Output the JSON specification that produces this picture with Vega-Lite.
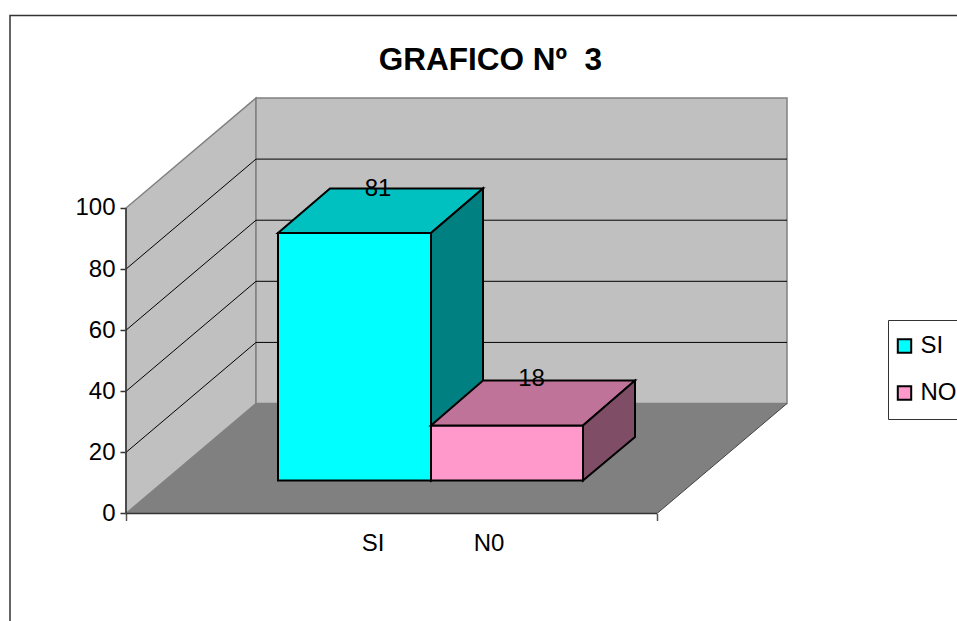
{
"$schema":"https://vega.github.io/schema/vega-lite/v6.json",
"width":957,"height":621,"padding":0,"autosize":{"type":"none"},
"background":"white",
"config":{"view":{"stroke":null},"font":"Liberation Sans"},
"title":{"text":"GRAFICO Nº\u00a0\u00a03","anchor":"middle","orient":"top","frame":"group","offset":-76,"dx":12,"font":"Liberation Sans","fontSize":31.5,"fontWeight":"bold","color":"black"},
"datasets":{
"walls":[
{"face":"Pared lateral","x":126,"y":0,"y2":100},
{"face":"Pared lateral","x":256,"y":36,"y2":136},
{"face":"Pared fondo","x":256,"y":36,"y2":136},
{"face":"Pared fondo","x":787,"y":36,"y2":136}],
"floor":[
{"face":"Piso","x":126,"y":0,"y2":0},
{"face":"Piso","x":256,"y":0,"y2":36},
{"face":"Piso","x":657,"y":0,"y2":36},
{"face":"Piso","x":787,"y":36,"y2":36}],
"grid":[
{"v":20,"x":126,"y":20},{"v":20,"x":256,"y":56},{"v":20,"x":787,"y":56},
{"v":40,"x":126,"y":40},{"v":40,"x":256,"y":76},{"v":40,"x":787,"y":76},
{"v":60,"x":126,"y":60},{"v":60,"x":256,"y":96},{"v":60,"x":787,"y":96},
{"v":80,"x":126,"y":80},{"v":80,"x":256,"y":116},{"v":80,"x":787,"y":116}],
"frame":[
{"edge":"marco","x":10,"y":-36},{"edge":"marco","x":10,"y":163},{"edge":"marco","x":957,"y":163},
{"edge":"eje y","x":126,"y":0},{"edge":"eje y","x":126,"y":100},
{"edge":"eje x","x":126,"y":0},{"edge":"eje x","x":657,"y":0}],
"diag":[{"edge":"piso","x":657,"y":0},{"edge":"piso","x":787,"y":36}],
"bars":[
{"series":"SI","value":81,"x":278,"y":10.8,"y2":91.8},
{"series":"SI","value":81,"x":431,"y":10.8,"y2":91.8},
{"series":"SI tapa","value":81,"x":278,"y":91.8,"y2":91.8},
{"series":"SI tapa","value":81,"x":330,"y":91.8,"y2":106.4},
{"series":"SI tapa","value":81,"x":431,"y":91.8,"y2":106.4},
{"series":"SI tapa","value":81,"x":483,"y":106.4,"y2":106.4},
{"series":"SI lado","value":81,"x":431,"y":10.8,"y2":91.8},
{"series":"SI lado","value":81,"x":483,"y":25,"y2":106.4},
{"series":"NO","value":18,"x":431,"y":10.8,"y2":28.8},
{"series":"NO","value":18,"x":583,"y":10.8,"y2":28.8},
{"series":"NO tapa","value":18,"x":431,"y":28.8,"y2":28.8},
{"series":"NO tapa","value":18,"x":483,"y":28.8,"y2":43.5},
{"series":"NO tapa","value":18,"x":583,"y":28.8,"y2":43.5},
{"series":"NO tapa","value":18,"x":635,"y":43.5,"y2":43.5},
{"series":"NO lado","value":18,"x":583,"y":10.8,"y2":28.8},
{"series":"NO lado","value":18,"x":635,"y":25,"y2":43.5}],
"valueLabels":[{"value":81,"x":378,"y":106.2},{"value":18,"x":531.5,"y":44}],
"categories":[{"label":"SI","x":373,"y":-10},{"label":"N0","x":489,"y":-10}]
},
"encoding":{
"x":{"field":"x","type":"quantitative","scale":{"domain":[0,957],"nice":false,"zero":false},
"axis":{"values":[126,657],"labels":false,"domain":false,"grid":false,"title":null,"offset":-107.5,"tickSize":7,"tickColor":"#555555","tickWidth":1.5}},
"y":{"field":"y","type":"quantitative","stack":null,"scale":{"domain":[-35.19,168.08],"nice":false,"zero":false},
"axis":{"values":[0,20,40,60,80,100],"domain":false,"grid":false,"title":null,"offset":-126,"tickSize":6,"tickColor":"#333333","tickWidth":1.5,"labelFont":"Liberation Sans","labelFontSize":24,"labelColor":"black","labelPadding":5,"labelOverlap":false}}
},
"layer":[
{"data":{"name":"walls"},"mark":{"type":"area","fill":"#c0c0c0","stroke":"#808080","strokeWidth":1.5},
"encoding":{"y2":{"field":"y2"},"detail":{"field":"face"}}},
{"data":{"name":"grid"},"mark":{"type":"line","stroke":"black","strokeWidth":1},"encoding":{"detail":{"field":"v"}}},
{"data":{"name":"floor"},"mark":{"type":"area","fill":"#808080"},
"encoding":{"y2":{"field":"y2"},"detail":{"field":"face"}}},
{"data":{"name":"frame"},"mark":{"type":"line","stroke":"#333333","strokeWidth":1.5},"encoding":{"detail":{"field":"edge"}}},
{"data":{"name":"diag"},"mark":{"type":"line","stroke":"#444444","strokeWidth":1},"encoding":{"detail":{"field":"edge"}}},
{"data":{"name":"bars"},"mark":{"type":"area","stroke":"black","strokeWidth":2,"strokeJoin":"miter"},
"encoding":{"y2":{"field":"y2"},"color":{"field":"series","type":"nominal",
"scale":{"domain":["SI","NO","SI tapa","SI lado","NO tapa","NO lado"],
"range":["#00ffff","#ff99cc","#00c0c0","#008080","#bf7399","#804d66"]},
"legend":{"values":["SI","NO"],"title":null,"orient":"none","legendX":888,"legendY":320,"padding":14,"strokeColor":"#333333","fillColor":"white","symbolType":"square","symbolSize":180,"symbolOffset":-9.5,"symbolStrokeColor":"black","symbolStrokeWidth":2,"labelFont":"Liberation Sans","labelFontSize":24,"labelColor":"black","labelOffset":4,"rowPadding":23}}}},
{"data":{"name":"valueLabels"},"mark":{"type":"text","font":"Liberation Sans","fontSize":24,"color":"black","baseline":"middle","align":"center"},"encoding":{"text":{"field":"value","type":"quantitative"}}},
{"data":{"name":"categories"},"mark":{"type":"text","font":"Liberation Sans","fontSize":24,"color":"black","baseline":"middle","align":"center"},"encoding":{"text":{"field":"label","type":"nominal"}}}
]
}
